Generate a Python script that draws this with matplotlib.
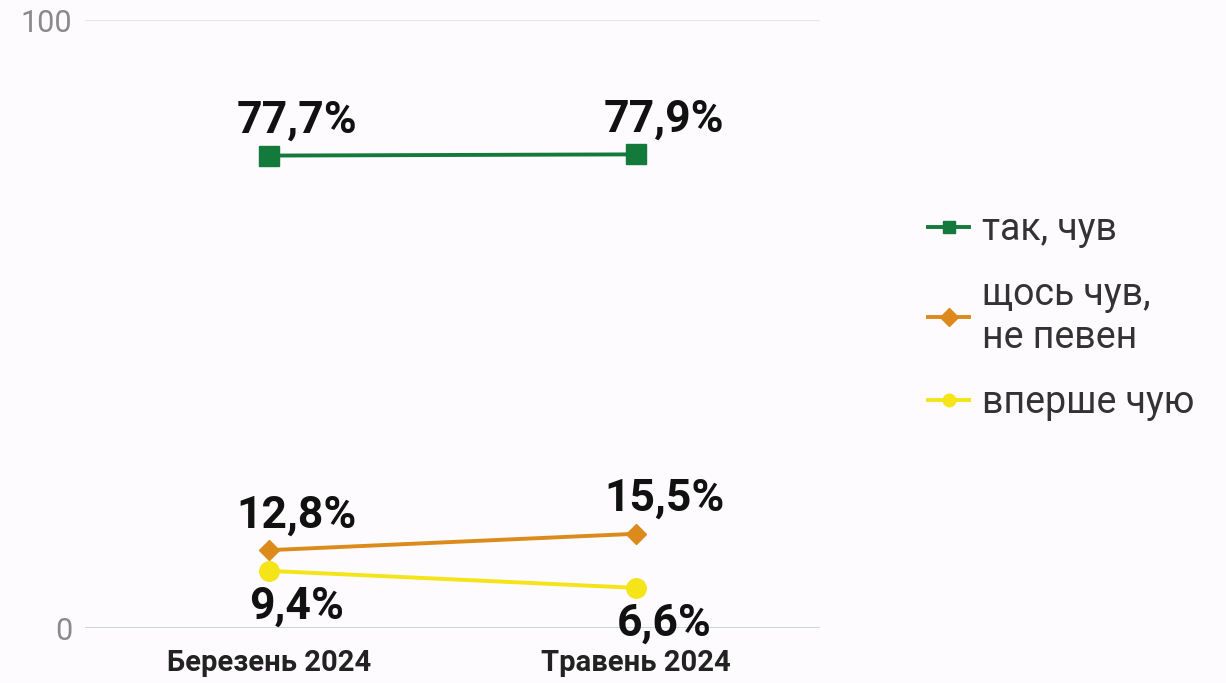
import matplotlib
matplotlib.use('Agg')
import matplotlib.pyplot as plt

plt.rcParams['font.family'] = ['Roboto', 'DejaVu Sans']

months = ['Березень 2024', 'Травень 2024']
series_names = ['так, чув', 'щось чув,\nне певен', 'вперше чую']
yes_heard = [77.7, 77.9]
heard_something = [12.8, 15.5]
first_time = [9.4, 6.6]

colors = ['#137a3b', '#dc8a1c', '#f4e418']
markers = ['s', 'D', 'o']
msizes = [14, 10, 14]
label_side = [1, 1, -1]


def fmt(v):
    return f'{v:.1f}%'.replace('.', ',')


def main():
    bg = '#fdfbfd'
    fig = plt.figure(figsize=(12.26, 6.83), dpi=100, facecolor=bg)
    ax = fig.add_axes([85 / 1226, 55 / 683, 735 / 1226, 608 / 683], facecolor=bg)

    x = list(range(len(months)))
    all_series = [yes_heard, heard_something, first_time]

    # gridlines at 0 and 100 only
    ax.axhline(100, color='#e8e6e8', lw=1.5, zorder=0)
    ax.axhline(0, color='#cdd7e0', lw=1.5, zorder=0)

    for vals, name, c, m, ms, side in zip(all_series, series_names, colors, markers, msizes, label_side):
        ax.plot(x, vals, color=c, lw=2.8, marker=m, markersize=ms, label=name, clip_on=False, zorder=3)
        for xi, v in zip(x, vals):
            ax.annotate(fmt(v), (xi, v), xytext=(20, 25 if side > 0 else -26),
                        textcoords='offset points', ha='center', va='center',
                        fontsize=32, fontweight='bold', color='#111111')

    ax.set_xlim(-0.5, 1.5)
    ax.set_ylim(0, 100)
    ax.set_yticks([0, 100])
    ax.set_yticklabels(['0', '100'])
    ax.set_xticks(x)
    ax.set_xticklabels(months, fontweight='bold', fontsize=21, color='#222222')
    ax.tick_params(axis='y', length=0, pad=9, labelsize=22, labelcolor='#8a8a8a')
    ax.tick_params(axis='x', length=0, pad=15)
    for s in ax.spines.values():
        s.set_visible(False)

    leg = ax.legend(loc='center left', bbox_to_anchor=(1.147, 0.513), frameon=False,
                    fontsize=27, handlelength=1.1, handletextpad=0.35, labelspacing=0.75,
                    borderaxespad=0, borderpad=0, labelcolor='#333333')
    for h in leg.legend_handles:
        h.set_markersize(9)
        h.set_linewidth(2.8)

    fig.savefig('out.png', dpi=100, facecolor=bg)


if __name__ == '__main__':
    main()
